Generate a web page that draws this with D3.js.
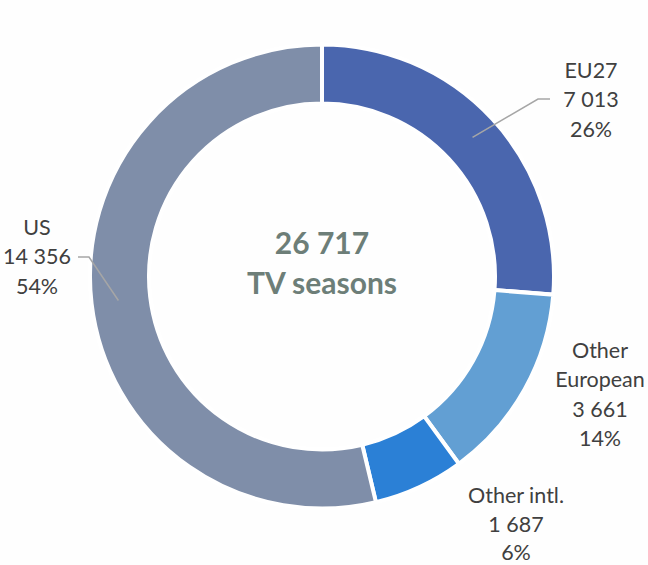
<!DOCTYPE html>
<html>
<head>
<meta charset="utf-8">
<script src="https://cdn.jsdelivr.net/npm/d3@7"></script>
<style>
  html, body { margin: 0; padding: 0; background: #fefefe; }
  svg { display: block; }
</style>
</head>
<body>
<svg id="chart" width="648" height="565"></svg>
<script>
// Regions and their counts of TV seasons
const categories = ["EU27", "Other European", "Other intl.", "US"];
const values = [7013, 3661, 1687, 14356];
const labelLines = [["EU27"], ["Other", "European"], ["Other intl."], ["US"]];
const colors = ["#4a66ae", "#629fd3", "#2b80d6", "#7f8ea9"];
const totalLabel = "TV seasons";

const fmt = n => d3.format(",")(n).replace(/,/g, " ");
const total = d3.sum(values);

const svg = d3.select("#chart");
const cx = 322, cy = 276.5;
const outerR = 232, innerR = 173;

const pie = d3.pie().sort(null).value(d => d.value);
const data = categories.map((c, i) => ({ name: c, value: values[i], lines: labelLines[i], color: colors[i] }));
const arcs = pie(data);

const arc = d3.arc().innerRadius(innerR).outerRadius(outerR);

const g = svg.append("g").attr("transform", `translate(${cx},${cy})`);

g.selectAll("path.slice")
  .data(arcs)
  .join("path")
  .attr("class", "slice")
  .attr("d", arc)
  .attr("fill", d => d.data.color)
  .attr("stroke", "#ffffff")
  .attr("stroke-width", 4)
  .attr("stroke-linejoin", "miter");

// Centre total
const centreFont = { family: "Lato, 'Open Sans', sans-serif", size: 30, color: "#6d7e78" };
[[fmt(total), -23], [totalLabel, 17.5]].forEach(([txt, y]) => {
  g.append("text")
    .attr("x", 0).attr("y", y)
    .attr("text-anchor", "middle")
    .attr("font-family", centreFont.family)
    .attr("font-weight", 700)
    .attr("font-size", centreFont.size)
    .attr("fill", centreFont.color)
    .text(txt);
});

// Label placement (page coords): centre x, first baseline, line gap
const labelPos = {
  "EU27": { x: 591, y: 78, gap: 29.3 },
  "Other European": { x: 600, y: 358, gap: 29.3 },
  "Other intl.": { x: 516, y: 503, gap: 28.5 },
  "US": { x: 37, y: 235, gap: 29.3 }
};
// Leader lines: elbow point and end of the short horizontal tick
const leaders = {
  "EU27": { elbow: [538, 99], end: [550, 99] },
  "US": { elbow: [89, 257], end: [78, 257] }
};

arcs.forEach(a => {
  const p = labelPos[a.data.name];
  const pct = Math.round(a.data.value / total * 100) + "%";
  const lines = [...a.data.lines, fmt(a.data.value), pct];
  const t = svg.append("text")
    .attr("text-anchor", "middle")
    .attr("font-family", "Lato, 'Open Sans', sans-serif")
    .attr("font-size", 21.5)
    .attr("fill", "#404040");
  lines.forEach((ln, i) => {
    t.append("tspan").attr("x", p.x).attr("y", p.y + i * p.gap).text(ln);
  });

  const ld = leaders[a.data.name];
  if (ld) {
    const mid = (a.startAngle + a.endAngle) / 2;
    const r0 = 205;
    const sx = cx + r0 * Math.sin(mid), sy = cy - r0 * Math.cos(mid);
    svg.append("polyline")
      .attr("points", [[sx, sy], ld.elbow, ld.end].map(q => q.join(",")).join(" "))
      .attr("fill", "none")
      .attr("stroke", "#a6a6a6")
      .attr("stroke-width", 1.5);
  }
});
</script>
</body>
</html>
